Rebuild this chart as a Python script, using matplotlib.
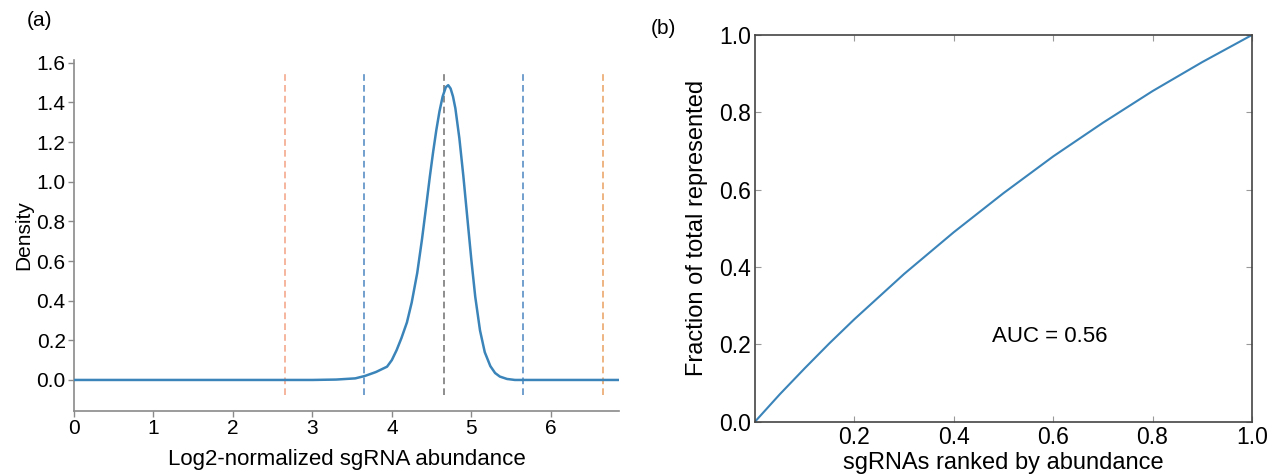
import matplotlib
matplotlib.use("Agg")
import matplotlib.pyplot as plt

plt.rcParams['font.family'] = ['Liberation Sans', 'DejaVu Sans']

# (a) density of log2-normalized sgRNA abundance
density_x = [0.0, 3.0, 3.3, 3.54, 3.66, 3.8, 3.94, 4.0, 4.06, 4.12, 4.19,
             4.25, 4.32, 4.38, 4.44, 4.48, 4.52, 4.56, 4.6, 4.64, 4.68,
             4.71, 4.74, 4.77, 4.8, 4.85, 4.9, 4.95, 5.0, 5.05, 5.11,
             5.17, 5.24, 5.3, 5.36, 5.45, 5.55, 6.86]
density_y = [0.0, 0.0, 0.002, 0.008, 0.02, 0.04, 0.067, 0.10, 0.15, 0.21, 0.29,
             0.39, 0.54, 0.71, 0.90, 1.03, 1.15, 1.26, 1.355, 1.43, 1.477,
             1.487, 1.47, 1.43, 1.37, 1.22, 1.03, 0.82, 0.61, 0.42, 0.25,
             0.14, 0.07, 0.035, 0.017, 0.005, 0.0, 0.0]

# reference lines: mean, mean +/- 1 and mean +/- 2
line_positions = [2.655, 3.655, 4.655, 5.655, 6.655]
line_colors = ['#f3a98e', '#5a8fc6', '#7a7a7a', '#5a8fc6', '#eaa86c']

# (b) cumulative representation curve
rank_x = [0.0, 0.05, 0.1, 0.15, 0.2, 0.3, 0.4, 0.5, 0.6, 0.7, 0.8, 0.9, 1.0]
frac_y = [0.0, 0.071, 0.138, 0.203, 0.265, 0.382, 0.49, 0.591, 0.686, 0.773,
          0.855, 0.93, 1.0]
auc_value = 0.56

curve_color = '#3a84b9'

fig = plt.figure(figsize=(12.74, 4.75), dpi=100)

# ---------------- panel (a) ----------------
ax1 = fig.add_axes([0.0581, 0.1354, 0.4278, 0.7383])
ax1.plot(density_x, density_y, color=curve_color, lw=1.8, zorder=3)
for pos, col in zip(line_positions, line_colors):
    ax1.vlines(pos, -0.075, 1.56, colors=col, linestyles=(0, (4, 2.5)), lw=1.2, zorder=2)
ax1.set_xlim(0, 6.86)
ax1.set_ylim(-0.155, 1.614)
ax1.set_xticks([0, 1, 2, 3, 4, 5, 6])
ax1.set_yticks([0.0, 0.2, 0.4, 0.6, 0.8, 1.0, 1.2, 1.4, 1.6])
ax1.set_yticklabels(['0.0', '0.2', '0.4', '0.6', '0.8', '1.0', '1.2', '1.4', '1.6'])
for s in ['top', 'right']:
    ax1.spines[s].set_visible(False)
for s in ['left', 'bottom']:
    ax1.spines[s].set_color('#8a8a8a')
    ax1.spines[s].set_linewidth(1.2)
ax1.tick_params(direction='out', length=4, width=1, color='#8a8a8a',
                labelsize=15, pad=2)
ax1.set_xlabel('Log2-normalized sgRNA abundance', fontsize=16, labelpad=8)
ax1.set_ylabel('Density', fontsize=15, labelpad=2)
fig.text(0.021, 1 - 21 / 475, '(a)', fontsize=15, ha='left', va='center')

# ---------------- panel (b) ----------------
ax2 = fig.add_axes([0.5926, 0.1122, 0.3901, 0.8141])
ax2.plot(rank_x, frac_y, color=curve_color, lw=1.5)
ax2.set_xlim(0, 1)
ax2.set_ylim(0, 1)
ax2.set_xticks([0.2, 0.4, 0.6, 0.8, 1.0])
ax2.set_xticklabels(['0.2', '0.4', '0.6', '0.8', '1.0'])
ax2.set_yticks([0.0, 0.2, 0.4, 0.6, 0.8, 1.0])
ax2.set_yticklabels(['0.0', '0.2', '0.4', '0.6', '0.8', '1.0'])
for s in ax2.spines.values():
    s.set_color('#444444')
    s.set_linewidth(1.2)
ax2.tick_params(direction='in', length=4, width=0.8, color='#999999',
                top=True, right=True, labelsize=16.5, pad=3)
ax2.set_xlabel('sgRNAs ranked by abundance', fontsize=17, labelpad=2)
ax2.set_ylabel('Fraction of total represented', fontsize=17, labelpad=8)
ax2.text(0.476, 0.22, f'AUC = {auc_value:.2f}', fontsize=16,
         ha='left', va='center', transform=ax2.transAxes)
fig.text(651 / 1274, 1 - 29 / 475, '(b)', fontsize=15, ha='left', va='center')

fig.savefig('out.png', dpi=100)
